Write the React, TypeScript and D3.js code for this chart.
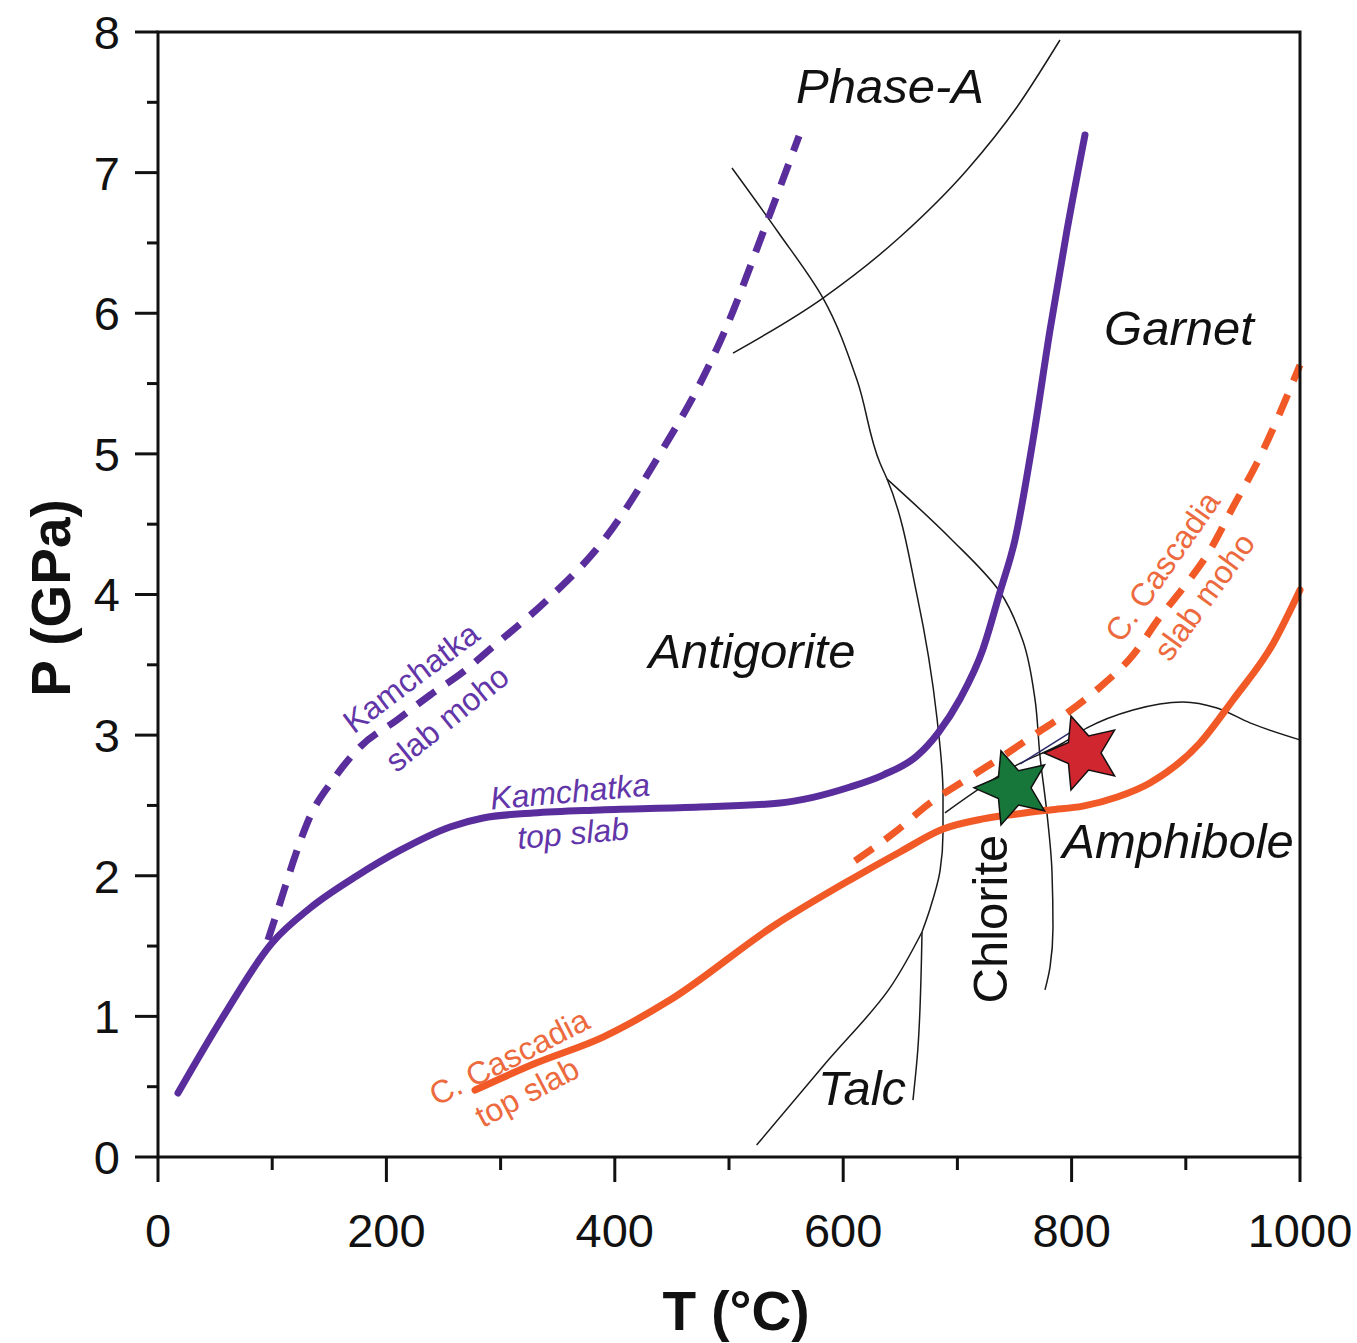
import React from 'react';
import * as d3 from 'd3';

const W = 1357;
const H = 1343;

// ---- Axis ticks ----
const xMajorTicks = [0, 200, 400, 600, 800, 1000];
const xMinorTicks = [100, 300, 500, 700, 900];
const yMajorTicks = [0, 1, 2, 3, 4, 5, 6, 7, 8];
const yMinorTicks = [0.5, 1.5, 2.5, 3.5, 4.5, 5.5, 6.5, 7.5];

// ---- Slab P-T paths [T (°C), P (GPa)] ----
const kamchatkaTopSlab: [number, number][] = [
  [17.5, 0.455], [56.9, 0.996], [99.8, 1.522], [133.1, 1.77], [174.3, 2.0],
  [211.9, 2.18], [255.7, 2.347], [284.6, 2.411], [328.4, 2.446], [387.0, 2.468],
  [474.6, 2.489], [544.7, 2.517], [606.0, 2.631], [634.9, 2.716], [664.6, 2.852],
  [683.0, 3.015], [702.3, 3.257], [722.4, 3.612], [737.3, 4.018], [750.4, 4.388],
  [766.2, 5.099], [781.1, 5.881], [796.0, 6.592], [811.7, 7.268],
];
const kamchatkaSlabMoho: [number, number][] = [
  [96.3, 1.543], [107.7, 1.828], [118.3, 2.098], [133.1, 2.42], [153.2, 2.681],
  [176.9, 2.916], [209.3, 3.108], [238.2, 3.285], [267.1, 3.449], [295.1, 3.641],
  [339.8, 3.954], [390.5, 4.388], [440.5, 5.013], [474.6, 5.5], [495.0, 5.85],
  [534.2, 6.67], [561.3, 7.26],
];
const cascadiaTopSlab: [number, number][] = [
  [277.6, 0.476], [331.0, 0.668], [389.7, 0.853], [448.3, 1.116], [540.3, 1.65],
  [606.0, 1.97], [649.7, 2.169], [687.4, 2.332], [722.4, 2.404], [752.2, 2.439],
  [781.1, 2.468], [810.0, 2.495], [840.0, 2.56], [868.6, 2.66], [912.4, 2.944],
  [941.3, 3.25], [976.4, 3.65], [1000, 4.032],
];
const cascadiaSlabMoho: [number, number][] = [
  [610.3, 2.105], [645.4, 2.311], [676.0, 2.517], [708.4, 2.688], [737.3, 2.837],
  [769.7, 3.015], [796.0, 3.157], [824.9, 3.342], [853.8, 3.57], [877.4, 3.84],
  [901.1, 4.082], [921.2, 4.316], [941.3, 4.622], [962.3, 4.935], [1000, 5.632],
];

// ---- Phase boundaries [T, P] ----
const antigoriteOut: [number, number][] = [
  [502.6, 7.033], [542.9, 6.578], [582.3, 6.108], [612.1, 5.525], [632.2, 4.935],
  [638.4, 4.821], [664.6, 3.996], [682.1, 3.122], [687.4, 2.581], [687.4, 2.304],
  [684.8, 2.034], [676.0, 1.764], [669.0, 1.6],
];
const talcSteep: [number, number][] = [
  [669.0, 1.6], [665.5, 0.782], [661.1, 0.405],
];
const talcDiagonal: [number, number][] = [
  [524.2, 0.085], [584.7, 0.668], [639.7, 1.188], [669.0, 1.6],
];
const phaseABoundary: [number, number][] = [
  [503.5, 5.717], [582.3, 6.108], [649.7, 6.542], [708.4, 7.019], [752.2, 7.467], [789.8, 7.943],
];
const chloriteOut: [number, number][] = [
  [638.4, 4.821], [693.5, 4.402], [737.3, 4.018], [757.4, 3.669], [767.9, 3.257],
  [772.3, 2.852], [778.5, 2.439], [782.8, 2.034], [783.7, 1.628], [781.1, 1.351], [776.7, 1.188],
];
const amphiboleOut: [number, number][] = [
  [689.1, 2.447], [752.2, 2.788], [792.5, 2.944], [813.5, 3.051], [853.8, 3.179],
  [897.5, 3.236], [927.3, 3.193], [956.2, 3.087], [1000, 2.966],
];
const amphiboleSecond: [number, number][] = [
  [755.0, 2.76], [800.0, 2.99],
];

// ---- Samples (stars) ----
const sampleNames = ['green', 'red'];
const sampleT = [748.7, 810.0];
const sampleP = [2.625, 2.873];

// ---- Field labels ----
const fieldNames = ['Phase-A', 'Garnet', 'Antigorite', 'Amphibole', 'Talc'];
const fieldT = [641.0, 894.0, 520.1, 893.2, 616.5];
const fieldP = [7.495, 5.774, 3.477, 2.126, 0.37];

function starD(R: number, r: number): string {
  const pts: [number, number][] = [];
  for (let k = 0; k < 10; k++) {
    const a = (k * Math.PI) / 5 - Math.PI / 2;
    const rad = k % 2 === 0 ? R : r;
    pts.push([rad * Math.cos(a), rad * Math.sin(a)]);
  }
  return d3.line()(pts) + 'Z';
}

export default function App() {
  const x = d3.scaleLinear().domain([0, 1000]).range([158, 1300]);
  const y = d3.scaleLinear().domain([0, 8]).range([1157, 32]);

  const lineX = d3
    .line<[number, number]>()
    .x((d) => x(d[0]))
    .y((d) => y(d[1]))
    .curve(d3.curveMonotoneX);
  const lineY = d3
    .line<[number, number]>()
    .x((d) => x(d[0]))
    .y((d) => y(d[1]))
    .curve(d3.curveMonotoneY);

  const purple = '#5a2d9c';
  const purpleText = '#6236a8';
  const orange = '#f15a27';
  const orangeText = '#ec6a3e';
  const font = "'Liberation Sans', Arial, Helvetica, sans-serif";

  const starPath = starD(39, 18);
  const starColors = ['#17773a', '#cf2630'];

  const curveLabels = [
    { lines: ['Kamchatka', 'slab moho'], T: [221.5, 253.0], P: [3.41, 3.12], rot: [-37, -39], color: purpleText, italic: false },
    { lines: ['Kamchatka', 'top slab'], T: [360.8, 363.4], P: [2.6, 2.304], rot: [-5, -5], color: purpleText, italic: true },
    { lines: ['C. Cascadia', 'top slab'], T: [307.4, 323.1], P: [0.711, 0.462], rot: [-27, -28], color: orangeText, italic: false },
    { lines: ['C. Cascadia', 'slab moho'], T: [879.5, 916.0], P: [4.2, 3.985], rot: [-55, -54], color: orangeText, italic: false },
  ];

  return (
    <svg
      width={W}
      height={H}
      style={{ position: 'absolute', left: 0, top: 0, background: '#fff' }}
      fontFamily={font}
    >
      <rect x={0} y={0} width={W} height={H} fill="#fff" />

      {/* thin phase boundaries */}
      <g fill="none" stroke="#1a1a1a" strokeWidth={1.5}>
        <path d={lineY(antigoriteOut)!} />
        <path d={lineY(talcSteep)!} />
        <path d={lineY(talcDiagonal)!} />
        <path d={lineX(phaseABoundary)!} />
        <path d={lineY(chloriteOut)!} />
        <path d={lineX(amphiboleOut)!} />
        <path d={lineX(amphiboleSecond)!} stroke="#2a2a6a" transform="translate(0,-5)" />
      </g>

      {/* slab paths */}
      <g fill="none" strokeWidth={7}>
        <path d={lineX(kamchatkaSlabMoho)!} stroke={purple} strokeDasharray="22 14" />
        <path d={lineX(kamchatkaTopSlab)!} stroke={purple} strokeLinecap="round" />
        <path d={lineX(cascadiaSlabMoho)!} stroke={orange} strokeDasharray="22 15" />
        <path d={lineX(cascadiaTopSlab)!} stroke={orange} strokeLinecap="round" />
      </g>

      {/* stars */}
      {sampleNames.map((n, i) => (
        <path
          key={n}
          d={starPath}
          transform={`translate(${x(sampleT[i])},${y(sampleP[i])}) rotate(-18)`}
          fill={starColors[i]}
          stroke="#111"
          strokeWidth={1.5}
          strokeLinejoin="miter"
        />
      ))}

      {/* frame */}
      <rect x={158} y={32} width={1142} height={1125} fill="none" stroke="#111" strokeWidth={3} />

      {/* ticks */}
      <g stroke="#111" strokeWidth={3}>
        {yMajorTicks.map((t) => (
          <line key={'ym' + t} x1={x(0) - 23} x2={x(0)} y1={y(t)} y2={y(t)} />
        ))}
        {yMinorTicks.map((t) => (
          <line key={'yn' + t} x1={x(0) - 11} x2={x(0)} y1={y(t)} y2={y(t)} />
        ))}
        {xMajorTicks.map((t) => (
          <line key={'xm' + t} x1={x(t)} x2={x(t)} y1={y(0)} y2={y(0) + 25} />
        ))}
        {xMinorTicks.map((t) => (
          <line key={'xn' + t} x1={x(t)} x2={x(t)} y1={y(0)} y2={y(0) + 13} />
        ))}
      </g>
      <g fontSize={47} fill="#111">
        {yMajorTicks.map((t) => (
          <text key={'yl' + t} x={x(0) - 38} y={y(t)} dy="0.36em" textAnchor="end">
            {t}
          </text>
        ))}
        {xMajorTicks.map((t) => (
          <text key={'xl' + t} x={x(t)} y={1247} textAnchor="middle">
            {t}
          </text>
        ))}
      </g>

      {/* axis titles */}
      <text x={736} y={1330} fontSize={55} fontWeight="bold" textAnchor="middle" fill="#111">
        T (°C)
      </text>
      <text
        transform={`translate(70,598) rotate(-90)`}
        fontSize={55}
        fontWeight="bold"
        textAnchor="middle"
        fill="#111"
      >
        P (GPa)
      </text>

      {/* field labels */}
      <g fontSize={49} fontStyle="italic" fill="#111" textAnchor="middle">
        {fieldNames.map((n, i) => (
          <text key={n} x={x(fieldT[i])} y={y(fieldP[i])}>
            {n}
          </text>
        ))}
      </g>
      <text
        transform={`translate(${x(743.4)},${y(1.692)}) rotate(-90)`}
        fontSize={49}
        textAnchor="middle"
        fill="#111"
      >
        Chlorite
      </text>

      {/* curve labels */}
      {curveLabels.map((c, ci) =>
        c.lines.map((ln, li) => (
          <text
            key={ci + '-' + li}
            transform={`translate(${x(c.T[li])},${y(c.P[li])}) rotate(${c.rot[li]})`}
            fontSize={32}
            fontStyle={c.italic ? 'italic' : 'normal'}
            fill={c.color}
            textAnchor="middle"
            dy="0.35em"
          >
            {ln}
          </text>
        ))
      )}
    </svg>
  );
}
